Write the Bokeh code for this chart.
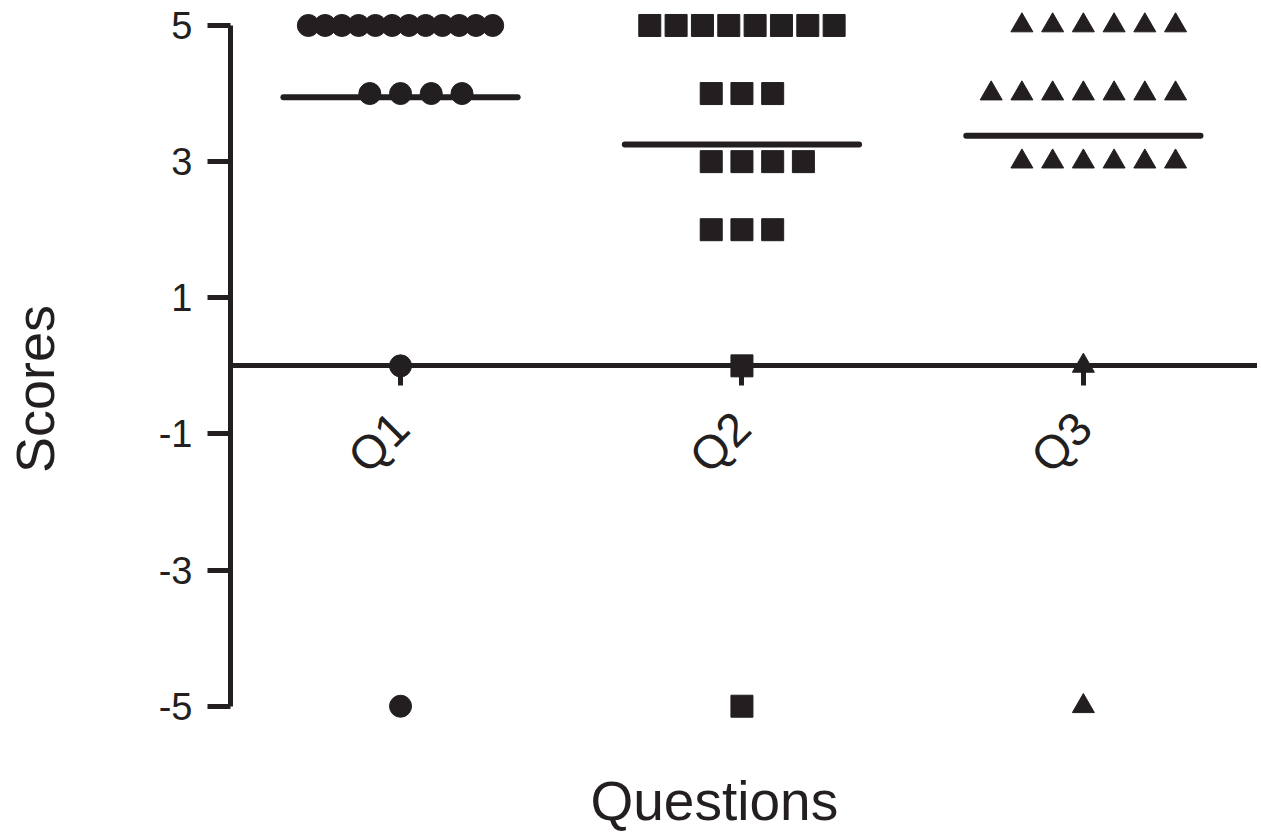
import numpy as np
from bokeh.plotting import figure
from bokeh.models import LinearAxis, FixedTicker, Range1d, Title
from bokeh.embed import file_html
from bokeh.resources import INLINE

# ---- data -------------------------------------------------------------
categories = ["Q1", "Q2", "Q3"]
marker_types = ["circle", "square", "triangle"]
score_levels = [5, 4, 3, 2, 0, -5]
# number of respondents giving each score level, per question
q1_counts = [12, 4, 0, 0, 1, 1]
q2_counts = [8, 3, 4, 3, 1, 1]
q3_counts = [6, 7, 6, 0, 1, 1]
y_ticks = [-5, -3, -1, 1, 3, 5]

INK = "#231f20"
FONT = "Liberation Sans"

p = figure(width=1257, height=833, output_backend="svg", toolbar_location=None,
           x_range=Range1d(0.502, 3.51), y_range=Range1d(-5.9, 5.22),
           min_border_left=230, min_border_right=0, min_border_top=10,
           min_border_bottom=66, outline_line_color=None)
p.xgrid.visible = False
p.ygrid.visible = False
p.background_fill_color = "white"
p.border_fill_color = "white"

# ---- scatter dot layout (columns of equal scores spread horizontally) --
slot = 0.09
max_slots = 3
all_counts = [q1_counts, q2_counts, q3_counts]
for qi, (cat, mk, counts) in enumerate(zip(categories, marker_types, all_counts)):
    xs, ys = [], []
    for val, k in zip(score_levels, counts):
        for i in range(k):
            if k <= 2 * max_slots + 1:
                off = (i - (k - 1) // 2) * slot
            else:
                off = -max_slots * slot + i * (2 * max_slots * slot / (k - 1))
            xs.append(qi + 1 + off)
            ys.append(val)
    p.scatter(xs, ys, marker=mk, size=22, fill_color=INK, line_color=INK)
    mean = float(np.mean(ys))
    p.segment(x0=[qi + 1 - 0.343], x1=[qi + 1 + 0.343], y0=[mean], y1=[mean],
              line_color=INK, line_width=6, line_cap="round")

# ---- y axis -------------------------------------------------------------
ya = p.yaxis[0]
ya.ticker = FixedTicker(ticks=y_ticks)
ya.major_label_overrides = {t: str(t) for t in y_ticks}
ya.bounds = (-5, 5)
ya.axis_line_width = 5
ya.axis_line_color = INK
ya.major_tick_line_width = 5
ya.major_tick_line_color = INK
ya.major_tick_out = 23
ya.major_tick_in = 0
ya.minor_tick_line_color = None
ya.major_label_standoff = 15
ya.major_label_text_font = FONT
ya.major_label_text_font_size = "38px"
ya.major_label_text_color = INK
ya.axis_label = "Scores"
ya.axis_label_text_font = FONT
ya.axis_label_text_font_size = "54px"
ya.axis_label_text_font_style = "normal"
ya.axis_label_text_color = INK
ya.axis_label_standoff = 91

# ---- default bottom axis not used --------------------------------------
p.xaxis[0].visible = False

# ---- category axis drawn at y = 0 --------------------------------------
za = LinearAxis(fixed_location=0,
                ticker=FixedTicker(ticks=[i + 1 for i in range(len(categories))]),
                major_label_overrides={i + 1: c for i, c in enumerate(categories)})
za.major_label_orientation = np.pi / 4
za.axis_line_width = 5
za.axis_line_color = INK
za.major_tick_line_width = 5
za.major_tick_line_color = INK
za.major_tick_out = 20
za.major_tick_in = 0
za.minor_tick_line_color = None
za.major_label_standoff = 34
za.major_label_text_font = FONT
za.major_label_text_font_size = "47px"
za.major_label_text_color = INK
p.add_layout(za, "below")

# ---- x axis title --------------------------------------------------------
xt = Title(text="Questions", align="left", offset=360, standoff=0,
           text_font=FONT, text_font_size="55px", text_font_style="normal",
           text_color=INK)
p.add_layout(xt, "below")

open("out.html", "w").write(file_html(p, INLINE))
